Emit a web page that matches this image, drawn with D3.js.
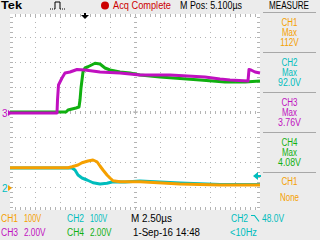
<!DOCTYPE html>
<html>
<head>
<meta charset="utf-8">
<script src="https://cdn.jsdelivr.net/npm/d3@7"></script>
<style>
  body { margin: 0; background: #ececec; }
  svg { display: block; }
  text { font-family: "Liberation Sans", Arial, sans-serif; font-size: 10px; }
</style>
</head>
<body>
<svg width="320" height="240"></svg>
<script>
// time in microseconds (2.50 us/div, 10 divisions)
var tCh1 = [0, 5.8, 6.2, 6.8, 7.2, 7.8, 8.3, 8.7, 9.0, 9.3, 9.7, 10.0, 10.3, 11.0, 13.0, 17.0, 21.0, 25];
var vCh1 = [81, 81, 85, 92, 101, 108, 112, 105, 88, 72, 52, 40, 29, 25, 25, 16, 12, 12];

var tCh2 = [0, 6.2, 6.5, 6.8, 7.2, 7.7, 8.3, 9.0, 9.7, 10.3, 11.5, 13.0, 17.0, 21.0, 25];
var vCh2 = [80, 80, 72, 52, 40, 32, 21, 16, 19, 25, 24, 28, 20, 14, 14];

var tCh3 = [0, 4.7, 4.75, 4.85, 5.2, 5.5, 6.0, 6.7, 7.5, 9.0, 11.0, 13.0, 16.0, 19.5, 21.0, 22.0, 23.8, 23.9, 24.1, 24.5, 25];
var vCh3 = [0, 0, 1.04, 2.24, 2.8, 3.2, 3.28, 3.48, 3.44, 3.28, 3.2, 3.04, 3.04, 2.88, 2.72, 2.64, 2.56, 3.48, 3.44, 3.28, 3.2];

var tCh4 = [0, 5.6, 5.8, 6.6, 6.9, 7.0, 7.1, 7.3, 7.5, 7.8, 8.5, 9.0, 9.5, 10.0, 11.0, 12.0, 13.0, 15.0, 19.0, 21.5, 23.5, 25];
var vCh4 = [0.08, 0.08, 0.24, 0.4, 0.48, 1.04, 2.0, 3.28, 3.6, 3.7, 3.98, 3.92, 3.6, 3.44, 3.28, 3.2, 3.04, 2.88, 2.64, 2.48, 2.48, 2.56];

var channels = ["CH1", "CH2", "CH3", "CH4"];
var chColors = ["#f5a000", "#00bdbd", "#c010c0", "#10b010"];
var voltsPerDiv = [100, 100, 2, 2];
var scaleLabels = ["100V", "100V", "2.00V", "2.00V"];
var measCh = ["CH1", "CH2", "CH3", "CH4", "CH1"];
var measType = ["Max", "Max", "Max", "Max", "None"];
var measValue = ["112V", "92.0V", "3.76V", "4.08V", ""];
var measColors = ["#f5a000", "#00bdbd", "#c010c0", "#10b010", "#f5a000"];

var svg = d3.select("svg");
var scrLeft = 10, scrRight = 260, scrTop = 14, scrBottom = 210;
var gridTop = 12, div = 25;

var x = d3.scaleLinear().domain([0, 25]).range([scrLeft, scrRight]);
var grounds = [188, 188, 113, 113];
function yScale(i) {
    return d3.scaleLinear().domain([0, voltsPerDiv[i]]).range([grounds[i], grounds[i] - div]);
}

// screen
svg.append("rect").attr("x", scrLeft).attr("y", scrTop).attr("width", scrRight - scrLeft).attr("height", scrBottom - scrTop).attr("fill", "#fff");

var grid = svg.append("g").attr("fill", "#b4b4b4");
// dotted division lines
for (var gx = scrLeft + div; gx < scrRight; gx += div) {
    for (var gy = gridTop + 5; gy < scrBottom; gy += 5) grid.append("rect").attr("x", gx).attr("y", gy).attr("width", 1).attr("height", 1);
}
for (var gy2 = gridTop + div; gy2 < scrBottom; gy2 += div) {
    for (var gx2 = scrLeft; gx2 < scrRight; gx2 += 5) grid.append("rect").attr("x", gx2).attr("y", gy2).attr("width", 1).attr("height", 1);
}
// edge and centre ticks
for (var ty = gridTop + 5; ty < scrBottom; ty += 5) {
    grid.append("rect").attr("x", scrLeft).attr("y", ty).attr("width", 3).attr("height", 1);
    grid.append("rect").attr("x", scrRight - 3).attr("y", ty).attr("width", 3).attr("height", 1);
    grid.append("rect").attr("x", 134).attr("y", ty).attr("width", 3).attr("height", 1);
}
for (var tx = scrLeft + 5; tx < scrRight; tx += 5) {
    grid.append("rect").attr("x", tx).attr("y", scrTop).attr("width", 1).attr("height", 3);
    grid.append("rect").attr("x", tx).attr("y", scrBottom - 3).attr("width", 1).attr("height", 3);
    grid.append("rect").attr("x", tx).attr("y", 111).attr("width", 1).attr("height", 3);
}
grid.append("rect").attr("x", 133).attr("y", 111.5).attr("width", 5).attr("height", 1);
grid.append("rect").attr("x", 135).attr("y", 109.5).attr("width", 1).attr("height", 5);

// traces, CH1 on top
var series = [[tCh1, vCh1], [tCh2, vCh2], [tCh3, vCh3], [tCh4, vCh4]];
[3, 2, 1, 0].forEach(function(i) {
    var ys = yScale(i);
    var line = d3.line()
        .x(function(d) { return x(d[0]); })
        .y(function(d) { return ys(d[1]); });
    var pts = series[i][0].map(function(t, k) { return [t, series[i][1][k]]; });
    svg.append("path")
        .attr("d", line(pts))
        .attr("fill", "none")
        .attr("stroke", chColors[i])
        .attr("stroke-width", 3)
        .attr("stroke-linejoin", "round");
});

// ground markers
function marker(lbl, y, textColor, arrowColor) {
    svg.append("text").attr("x", 2).attr("y", y + 4).attr("fill", textColor).attr("font-size", "11px").text(lbl);
    svg.append("path").attr("d", "M8," + (y - 3) + "L12," + y + "L8," + (y + 3) + "Z").attr("fill", arrowColor);
}
marker("3", grounds[2], chColors[2], chColors[2]);
marker("2", grounds[0], chColors[1], chColors[0]);

// trigger level
svg.append("path").attr("d", "M253,176L258,172L258,180Z").attr("fill", chColors[1]);
svg.append("rect").attr("x", 257).attr("y", 175).attr("width", 4).attr("height", 2).attr("fill", chColors[1]);

// trigger position
svg.append("rect").attr("x", 84).attr("y", 13).attr("width", 2).attr("height", 3).attr("fill", "#000");
svg.append("path").attr("d", "M81,15L89,15L85,19Z").attr("fill", "#000");

// header
svg.append("text").attr("x", 1).attr("y", 9).attr("font-family", "Liberation Serif").attr("font-weight", "bold")
    .attr("font-size", "11px").attr("textLength", 21).attr("lengthAdjust", "spacingAndGlyphs").text("Tek");
svg.append("path").attr("d", "M50,9H55M60,9H65").attr("fill", "none").attr("stroke", "#000").attr("stroke-dasharray", "1,1");
svg.append("path").attr("d", "M55,9V2H60V9").attr("fill", "none").attr("stroke", "#000");
svg.append("circle").attr("cx", 105).attr("cy", 5.5).attr("r", 4).attr("fill", "#cc0000");

function label(str, xx, yy, w, color, anchor) {
    svg.append("text").attr("x", xx).attr("y", yy).attr("fill", color)
        .attr("text-anchor", anchor || "start")
        .attr("textLength", w).attr("lengthAdjust", "spacingAndGlyphs").text(str);
}
label("Acq Complete", 113, 9, 58, "#cc0000");
label("M Pos: 5.100\u00b5s", 180, 9, 62, "#000");
label("MEASURE", 269, 9, 40, "#000");

// measure panel
var sepY = [12, 52, 92, 132, 172];
sepY.forEach(function(sy) {
    svg.append("rect").attr("x", 263).attr("y", sy).attr("width", 53).attr("height", 1).attr("fill", "#a8a8a8");
});
var measBase = [26, 66, 106, 146];
measBase.forEach(function(b, i) {
    label(measCh[i], 289.5, b, 16, measColors[i], "middle");
    label(measType[i], 289.5, b + 9.5, 15, measColors[i], "middle");
    label(measValue[i], 289.5, b + 20, measValue[i].length * 4.6, measColors[i], "middle");
});
label(measCh[4], 289.5, 185, 16, measColors[4], "middle");
label(measType[4], 289.5, 201, 19, measColors[4], "middle");

// bottom status
[0, 1, 2, 3].forEach(function(i) {
    var row = i < 2 ? 222 : 236;
    var col = i % 2 === 0 ? 1 : 67;
    label(channels[i], col, row, 17, chColors[i]);
    label(scaleLabels[i], col + 23, row, scaleLabels[i].length * 4.3, chColors[i]);
});
label("M 2.50\u00b5s", 131, 222, 41, "#000");
label("1-Sep-16 14:48", 133, 236, 67, "#000");
label("CH2", 231, 222, 17, chColors[1]);
svg.append("path").attr("d", "M251,215.5H254.5L259,221.5").attr("fill", "none").attr("stroke", chColors[1]).attr("stroke-width", 1.2);
label("48.0V", 262, 222, 22, chColors[1]);
label("<10Hz", 230, 236, 27, chColors[1]);
</script>
</body>
</html>
